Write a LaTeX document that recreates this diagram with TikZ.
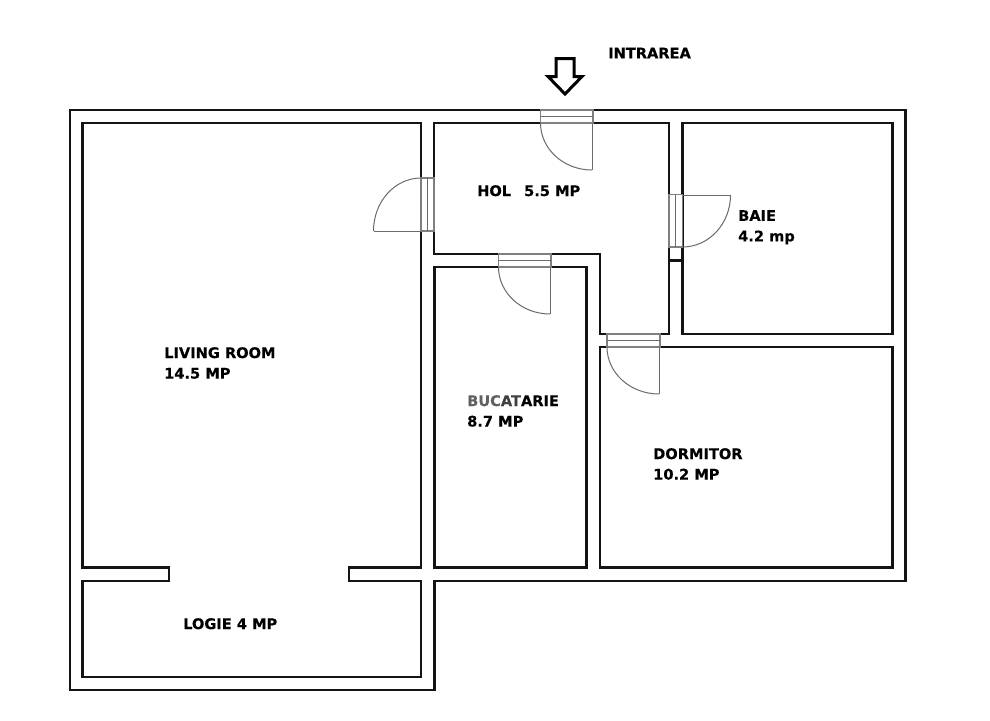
\documentclass[tikz,border=0pt]{standalone}
\usepackage{fontspec}
\setmainfont[BoldFeatures={FakeBold=0.25}]{DejaVu Sans}
\newcommand{\doorswing}[6]{% start x,y ; pivot x,y ; end x,y : quarter ellipse from start to end about the pivot
  \draw[doorline] (#1,#2) .. controls ({#1+0.5523*(#5-#3)},{#2+0.5523*(#6-#4)}) and ({#5+0.5523*(#1-#3)},{#6+0.5523*(#2-#4)}) .. (#5,#6);}
\tikzset{
  x=1pt,y=-1pt,
  wall/.style={draw=black!92,line width=2.2pt,miter limit=10},
  doorframe/.style={draw=black!50,line width=1.5pt,fill=white},
  doorline/.style={draw=black!58,line width=1pt},
  roomlabel/.style={font=\bfseries\fontsize{14.6}{20.5}\selectfont,text=black,align=left,anchor=north west,inner sep=0pt},
}
\begin{document}
\begin{tikzpicture}
\useasboundingbox (0,0) rectangle (990,720);
\fill[white] (0,0) rectangle (990,720);
% outer outline
\draw[wall] (70,110) -- (905.5,110) -- (905.5,581) -- (434.5,581) -- (434.5,690) -- (70,690) -- cycle;
% living room and logia
\draw[wall] (82.5,123) -- (421,123) -- (421,567.5) -- (349,567.5) -- (349,581) -- (421,581) -- (421,677) -- (82.5,677) -- (82.5,581) -- (169,581) -- (169,567.5) -- (82.5,567.5) -- cycle;
% hall
\draw[wall] (434,123) -- (669,123) -- (669,334) -- (600,334) -- (600,254) -- (434,254) -- cycle;
% kitchen
\draw[wall] (434.5,267) -- (586.5,267) -- (586.5,567.5) -- (434.5,567.5) -- cycle;
% bath
\draw[wall] (682.5,123) -- (892.5,123) -- (892.5,334) -- (682.5,334) -- cycle;
\draw[wall] (669,260.5) -- (682.5,260.5);
% bedroom
\draw[wall] (600,347) -- (892.5,347) -- (892.5,567.5) -- (600,567.5) -- cycle;
% door frames
\draw[doorframe] (540.5,110) rectangle (593,123);
\draw[doorline] (540.5,116.5) -- (593,116.5);
\draw[doorframe] (421,178) rectangle (434,231);
\draw[doorline] (427.5,178) -- (427.5,231);
\draw[doorframe] (669,194.5) rectangle (682.5,247);
\draw[doorline] (675.5,194.5) -- (675.5,247);
\draw[doorframe] (498.5,254) rectangle (551,267);
\draw[doorline] (498.5,260.5) -- (551,260.5);
\draw[doorframe] (607,334) rectangle (660,347);
\draw[doorline] (607,340.5) -- (660,340.5);
% door leaves
\draw[doorline] (592,123) -- (592,170);
\doorswing{540.5}{123}{592}{123}{592}{170}
\draw[doorline] (421,231) -- (373.5,231);
\doorswing{421}{178}{421}{231}{373.5}{231}
\draw[doorline] (682.5,195) -- (730.5,195);
\doorswing{730.5}{195}{682.5}{195}{682.5}{247}
\draw[doorline] (550,267) -- (550,314);
\doorswing{498.5}{267}{550}{267}{550}{314}
\draw[doorline] (659,347) -- (659,394);
\doorswing{607}{347}{659}{347}{659}{394}
% entry arrow
\draw[draw=black,line width=3pt,miter limit=10] (556,58.5) -- (574,58.5) -- (574,76.5) -- (582,76.5) -- (565,94) -- (548,76.5) -- (556,76.5) -- cycle;
% labels
\node[roomlabel] (intrarea) at (608,47.5) {INTRAREA};
\node[roomlabel] (hol) at (477,185) {HOL\hspace{13pt}5.5 MP};
\node[roomlabel] (baie) at (738,210) {BAIE\\4.2 mp};
\node[roomlabel] (living) at (164,347) {LIVING ROOM\\14.5 MP};
\node[roomlabel] (bucatarie) at (467,395) {\textcolor{black!62}{BUC}\textcolor{black!75}{AT}ARIE\\8.7 MP};
\node[roomlabel] (dormitor) at (653,448) {DORMITOR\\10.2 MP};
\node[roomlabel] (logie) at (183,618) {LOGIE 4 MP};
\end{tikzpicture}
\end{document}
